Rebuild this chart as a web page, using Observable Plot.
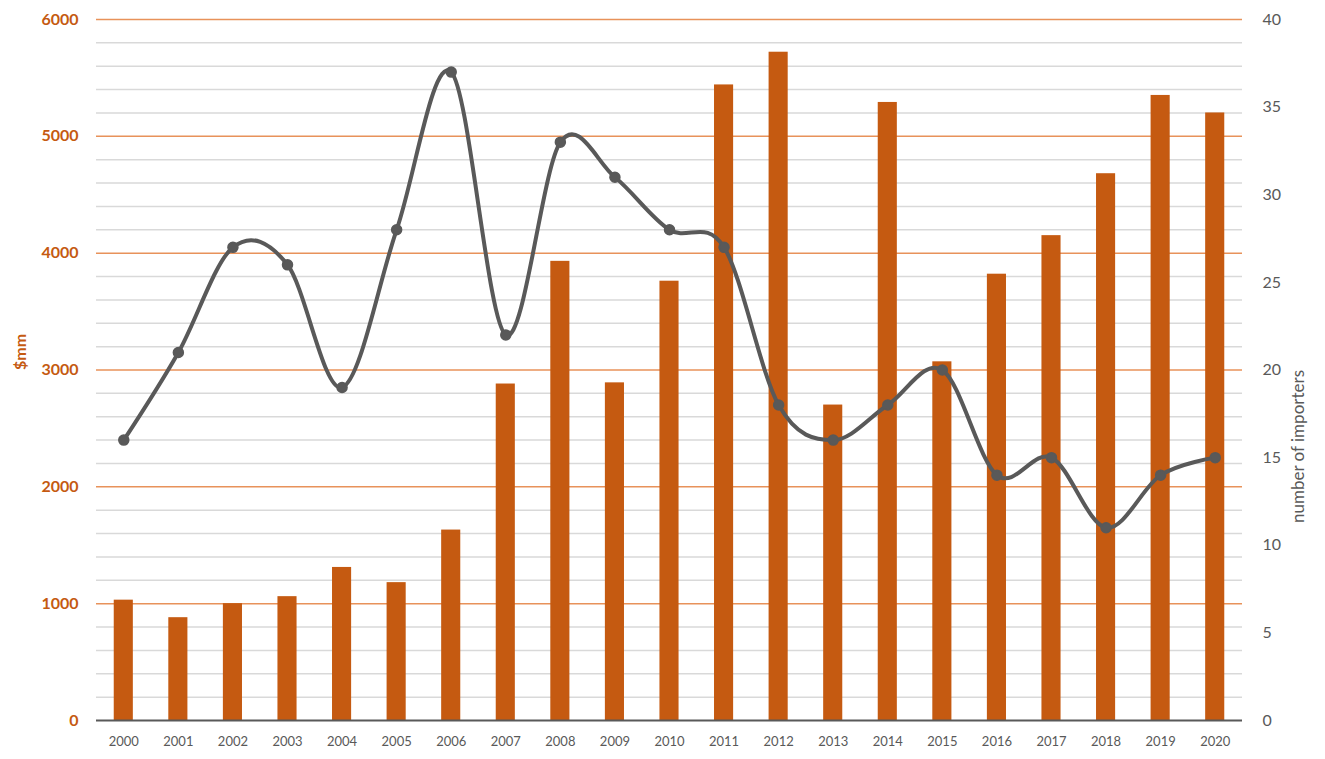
<!DOCTYPE html>
<html>
<head>
<meta charset="utf-8">
<script src="https://cdn.jsdelivr.net/npm/d3@7"></script>
<script src="https://cdn.jsdelivr.net/npm/@observablehq/plot@0.6"></script>
<style>
  html, body { margin: 0; padding: 0; background: #fff; }
</style>
</head>
<body>
<div id="chart"></div>
<script>
const years = ["2000","2001","2002","2003","2004","2005","2006","2007","2008","2009","2010",
               "2011","2012","2013","2014","2015","2016","2017","2018","2019","2020"];
const valueMM = [1030, 880, 1000, 1060, 1310, 1180, 1630, 2880, 3930, 2890, 3760,
                 5440, 5720, 2700, 5290, 3070, 3820, 4150, 4680, 5350, 5200];
const importers = [16, 21, 27, 26, 19, 28, 37, 22, 33, 31, 28,
                   27, 18, 16, 18, 20, 14, 15, 11, 14, 15];
const leftTicks = [0, 1000, 2000, 3000, 4000, 5000, 6000];
const rightTicks = [0, 5, 10, 15, 20, 25, 30, 35, 40];

const ratio = 6000 / 40; // importers -> $mm space
const data = years.map((y, i) => ({year: y, value: valueMM[i], n: importers[i]}));
const minor = d3.range(200, 6001, 200).filter(v => v % 1000 !== 0);
const major = leftTicks.filter(v => v > 0);

const orange = "#c55a11";
const grey = "#595959";

const chart = Plot.plot({
  width: 1325,
  height: 759,
  marginLeft: 96,
  marginRight: 83,
  marginTop: 19,
  marginBottom: 39,
  style: {fontFamily: "Lato, 'Open Sans', sans-serif", background: "#fff"},
  x: {type: "band", domain: years, paddingInner: 0.65, paddingOuter: 0.325, round: false, label: null},
  y: {domain: [0, 6000], label: null},
  marks: [
    Plot.ruleY(minor, {stroke: "#d9d9d9", strokeWidth: 1.5}),
    Plot.ruleY(major, {stroke: "#e8925a", strokeWidth: 1.5}),
    Plot.barY(data, {x: "year", y: "value", fill: orange}),
    Plot.ruleY([0], {stroke: grey, strokeWidth: 2}),
    Plot.line(data, {x: "year", y: d => d.n * ratio, curve: "cardinal", tension: 0, stroke: grey, strokeWidth: 4}),
    Plot.dot(data, {x: "year", y: d => d.n * ratio, r: 5, fill: grey, stroke: grey}),
    Plot.axisY({ticks: leftTicks, tickFormat: d => String(d), anchor: "left", tickSize: 0, tickPadding: 18, label: null,
                fill: orange, fontWeight: "bold", fontSize: 16}),
    Plot.axisY({ticks: rightTicks.map(v => v * ratio), tickFormat: d => String(d / ratio), anchor: "right",
                tickSize: 0, tickPadding: 20, label: null, fill: grey, fontSize: 16}),
    Plot.axisX({tickSize: 0, tickPadding: 16, label: null, fill: grey, fontSize: 13}),
    Plot.text(["$mm"], {frameAnchor: "left", dx: -76, rotate: -90, fill: orange,
                        fontWeight: "bold", fontSize: 16}),
    Plot.text(["number of importers"], {frameAnchor: "right", dx: 56, rotate: -90, fill: grey, fontSize: 17})
  ]
});
document.getElementById("chart").appendChild(chart);
</script>
</body>
</html>
